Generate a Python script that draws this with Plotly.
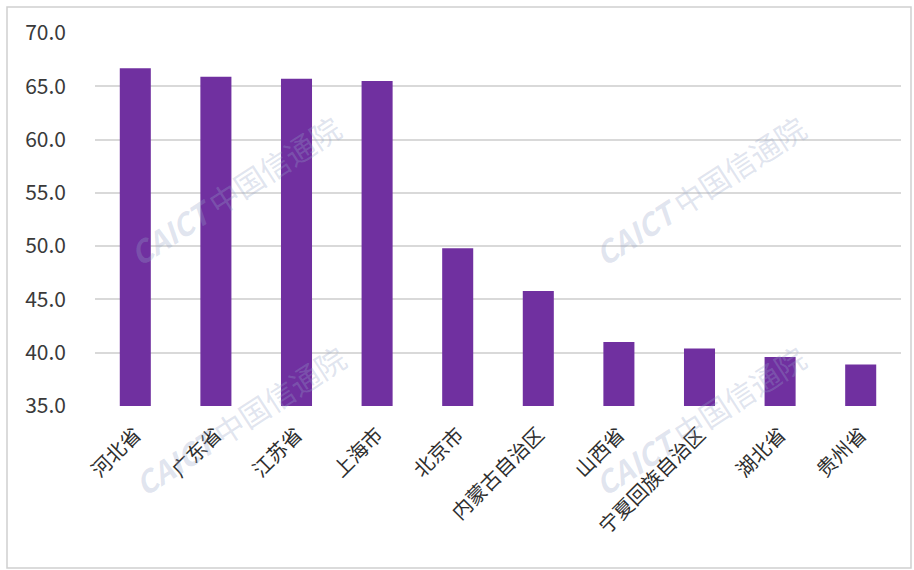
import plotly.graph_objects as go

# Provinces / cities and their values
regions = ["河北省", "广东省", "江苏省", "上海市", "北京市",
           "内蒙古自治区", "山西省", "宁夏回族自治区", "湖北省", "贵州省"]
values = [66.7, 65.9, 65.7, 65.5, 49.8, 45.8, 41.0, 40.4, 39.6, 38.9]
y_ticks = [35.0, 40.0, 45.0, 50.0, 55.0, 60.0, 65.0, 70.0]

BAR_COLOR = "#7030A0"
TEXT_COLOR = "#3a3a3a"
FONT = "Noto Sans CJK SC, Noto Sans, sans-serif"

fig = go.Figure(
    go.Bar(
        x=regions,
        y=values,
        marker=dict(color=BAR_COLOR, line=dict(width=0)),
    )
)

fig.update_layout(
    width=914,
    height=570,
    margin=dict(l=95, r=13, t=33, b=164),
    paper_bgcolor="white",
    plot_bgcolor="white",
    showlegend=False,
    bargap=0.615,
    font=dict(family=FONT, color=TEXT_COLOR),
    xaxis=dict(
        tickangle=-45,
        tickfont=dict(size=20, color="#2e2e2e"),
        showgrid=False,
        showline=False,
        ticks="",
        ticklabelstandoff=12,
    ),
    yaxis=dict(
        range=[35, 70],
        tickvals=y_ticks,
        ticktext=[f"{t:.1f}" for t in y_ticks],
        tickfont=dict(size=21, color=TEXT_COLOR),
        showgrid=True,
        gridcolor="#d9d9d9",
        gridwidth=1.5,
        zeroline=False,
        showline=False,
        ticks="",
        ticklabelstandoff=28,
    ),
)

# thin frame around the chart
fig.add_shape(
    type="rect", xref="paper", yref="paper",
    x0=-88 / 806, x1=1 + 10 / 806,
    y0=-162 / 373, y1=1 + 26 / 373,
    line=dict(color="#d0d0d0", width=1.5),
    fillcolor="rgba(0,0,0,0)", layer="below",
)

# faint "CAICT 中国信通院" watermarks
for cx, cy in [(235, 190), (700, 190), (240, 420), (700, 420)]:
    fig.add_annotation(
        x=(cx - 95) / 806, y=1 - (cy - 33) / 373,
        xref="paper", yref="paper",
        xanchor="center", yanchor="middle",
        text="<b><i>CAICT</i></b> 中国信通院",
        showarrow=False,
        textangle=-33,
        font=dict(size=30, color="rgba(150,165,200,0.30)", family=FONT),
    )

fig.write_html("out.html")
